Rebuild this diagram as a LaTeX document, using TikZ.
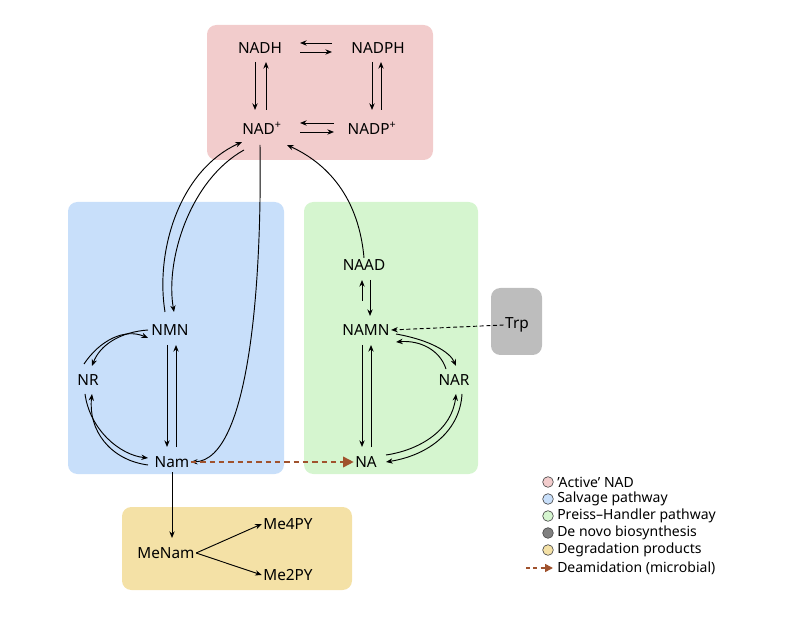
\documentclass[tikz,border=0pt]{standalone}
\usepackage{fontspec}
\setmainfont{Noto Sans}
\usetikzlibrary{arrows.meta}
\definecolor{pinkb}{HTML}{F2CCCC}
\definecolor{blueb}{HTML}{C8DFFA}
\definecolor{greenb}{HTML}{D5F5CF}
\definecolor{grayb}{HTML}{BDBDBD}
\definecolor{yellb}{HTML}{F4E1A6}
\definecolor{brownc}{HTML}{A0522D}
\begin{document}
\begin{tikzpicture}[x=0.75pt,y=-0.75pt,
  box/.style={rounded corners=7pt,draw=none},
  lab/.style={font=\fontsize{11.5}{13}\selectfont,inner sep=1pt},
  ar/.style={-{Stealth[length=5pt,width=4pt]},line width=0.7pt},
  leg/.style={circle,draw=black!70,line width=0.5pt,minimum size=8pt,inner sep=0pt},
  legt/.style={anchor=west,font=\fontsize{10.5}{12}\selectfont,inner sep=0pt}]
\useasboundingbox (0,0) rectangle (788,630);
\fill[pinkb,box] (207,25) rectangle (433,160);
\fill[blueb,box] (68,202) rectangle (284,474);
\fill[greenb,box] (304,202) rectangle (478,474);
\fill[grayb,box] (491,288) rectangle (542,355);
\fill[yellb,box] (122,507) rectangle (352,590);

\node[lab] (nadh) at (260,48) {NADH};
\node[lab] (nadph) at (378,48) {NADPH};
\node[lab] (nad) at (262,128) {\textbf{NAD\textsuperscript{+}}};
\node[lab] (nadp) at (372,128) {NADP\textsuperscript{+}};
\node[lab] (nmn) at (170,330) {NMN};
\node[lab] (nr) at (88,380) {NR};
\node[lab] (nam) at (172,462) {Nam};
\node[lab] (naad) at (364,265) {NAAD};
\node[lab] (namn) at (366,330) {NAMN};
\node[lab] (nar) at (454,380) {NAR};
\node[lab] (na) at (366,462) {NA};
\node[lab] (trp) at (517,325) {Trp};
\node[lab] (menam) at (166,553) {MeNam};
\node[lab] (me4) at (288,524) {Me4PY};
\node[lab] (me2) at (288,575) {Me2PY};

% top box
\draw[ar] (332,43) -- (300,43);
\draw[ar] (300,52) -- (332,52);
\draw[ar] (334,123) -- (300,123);
\draw[ar] (300,132) -- (334,132);
\draw[ar] (255,62) -- (255,110);
\draw[ar] (266,110) -- (266,62);
\draw[ar] (372,62) -- (372,110);
\draw[ar] (381,110) -- (381,62);

% to/from NAD
\coordinate (c1) at (244,150);
\coordinate (c2) at (242,142);
\draw[ar] (c1) .. controls (190,180) and (165,260) .. (174,312);
\draw[ar] (165,312) .. controls (155,250) and (180,170) .. (c2);
\draw[ar] (260,145) .. controls (262,280) and (250,460) .. (nam.east);
\draw[ar] (naad.north) .. controls (358,190) and (320,160) .. (287,145);

% salvage
\draw[ar] (167,345) -- (167,447);
\draw[ar] (176,447) -- (176,345);
\draw[ar] (148,330) .. controls (120,332) and (100,345) .. (92,366);
\draw[ar] (84,364) .. controls (100,340) and (125,328) .. (148,338);
\draw[ar] (85,394) .. controls (90,430) and (120,455) .. (148,458);
\draw[ar] (148,465) .. controls (110,460) and (88,430) .. (92,394);

% Preiss-Handler
\draw[ar] (362,301) -- (362,280);
\draw[ar] (370,280) -- (370,316);
\draw[ar] (362,345) -- (362,447);
\draw[ar] (371,447) -- (371,345);
\draw[ar] (396,334) .. controls (430,340) and (450,352) .. (456,366);
\draw[ar] (446,369) .. controls (440,350) and (420,340) .. (396,342);
\draw[ar] (462,394) .. controls (460,430) and (430,455) .. (386,462);
\draw[ar] (386,455) .. controls (420,450) and (452,430) .. (456,394);

% Trp
\draw[ar,dashed,dash pattern=on 3pt off 2pt] (trp.west) -- (namn.east);
% deamidation
\draw[brownc,line width=1.3pt,dash pattern=on 4pt off 3pt,-{Triangle[length=8pt,width=8pt]}] (nam.east) -- (na.west);

% degradation
\draw[ar] (172,472) -- (172,538);
\draw[ar] (menam.east) -- (me4.west);
\draw[ar] (menam.east) -- (me2.west);

% legend
\node[leg,fill=pinkb] (l1) at (548,482) {};
\node[legt] (t1) at (557,482) {'Active' NAD};
\node[leg,fill=blueb] (l2) at (548,499) {};
\node[legt] (t2) at (557,499) {Salvage pathway};
\node[leg,fill=greenb] (l3) at (548,516) {};
\node[legt] (t3) at (557,516) {Preiss–Handler pathway};
\node[leg,fill=gray] (l4) at (548,533) {};
\node[legt] (t4) at (557,533) {De novo biosynthesis};
\node[leg,fill=yellb] (l5) at (548,550) {};
\node[legt] (t5) at (557,550) {Degradation products};
\coordinate (d1) at (526,568);
\coordinate (d2) at (553,568);
\draw[brownc,line width=1.1pt,dash pattern=on 3pt off 2.5pt,-{Triangle[length=6pt,width=6pt]}] (d1) -- (d2);
\node[legt] (t6) at (557,568) {Deamidation (microbial)};
\end{tikzpicture}
\end{document}
